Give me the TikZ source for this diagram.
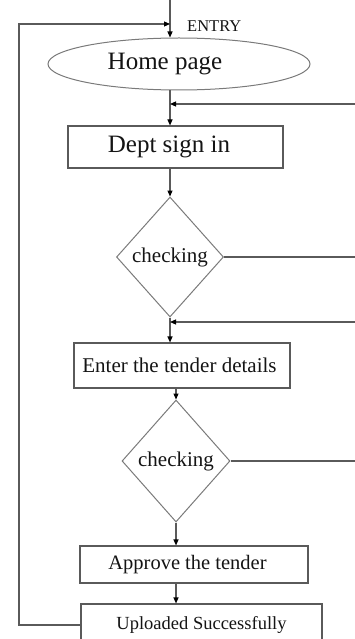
\documentclass[tikz,border=0pt]{standalone}
\usepackage{fontspec}
\setmainfont{Liberation Serif}
\usetikzlibrary{shapes.geometric,arrows.meta}

\definecolor{edge}{HTML}{5A5A5A}
\definecolor{shapeline}{HTML}{7A7A7A}
\definecolor{ink}{HTML}{141414}

\tikzset{
  flowline/.style={draw=edge, line width=1.1pt},
  arr/.style={flowline, -{Triangle[length=6pt,width=5pt,fill=black,color=black]}},
  procbox/.style={draw=edge, line width=1.1pt, rectangle, inner sep=0pt, text=ink},
  decide/.style={draw=shapeline, line width=1pt, diamond, inner sep=0pt, text=ink,
    font=\fontsize{21}{24}\selectfont},
  startnode/.style={draw=shapeline, line width=1pt, ellipse, inner sep=0pt, text=ink,
    font=\fontsize{25}{28}\selectfont}
}

\begin{document}
\begin{tikzpicture}[x=1pt, y=-1pt]
  \useasboundingbox (0,0) rectangle (355,639);

  % main flow (a negative leading skip moves a label a little left of its box centre)
  \node[startnode, minimum width=262pt, minimum height=52pt] (home) at (179,64) {\hspace*{-28pt}Home page};
  \node[procbox, minimum width=215pt, minimum height=42pt, font=\fontsize{25}{28}\selectfont] (dept) at (175.5,147) {\hspace*{-13pt}Dept sign in};
  \node[decide, minimum width=107pt, minimum height=120pt] (chk1) at (170,257) {checking};
  \node[procbox, minimum width=216pt, minimum height=45pt, font=\fontsize{21}{24}\selectfont] (enter) at (182,365.5) {\hspace*{-5pt}Enter the tender details};
  \node[decide, minimum width=108pt, minimum height=122pt] (chk2) at (176,461) {checking};
  \node[procbox, minimum width=228pt, minimum height=37pt, font=\fontsize{20.5}{24}\selectfont] (approve) at (194,564.5) {\hspace*{-13pt}Approve the tender};
  \node[procbox, minimum width=241pt, minimum height=42pt, font=\fontsize{18.5}{22}\selectfont] (upload) at (201.5,625) {Uploaded Successfully};

  \node[text=ink, anchor=west, inner sep=0pt, font=\fontsize{16.5}{18}\selectfont] (entry) at (187,26) {ENTRY};

  % column and edge references
  \coordinate (colA) at (170,0);
  \coordinate (colB) at (176,0);
  \coordinate (leftx) at (19,0);
  \coordinate (entrytop) at (170,0);
  \coordinate (loopin) at (170,24);
  \coordinate (ret1) at (355,104);
  \coordinate (out1) at (355,257);
  \coordinate (ret2) at (355,322);
  \coordinate (out2) at (355,461);

  % entry and return loop
  \draw[arr] (entrytop) -- (colA |- home.north);
  \draw[arr] (upload.west) -- (leftx |- upload.west) -- (leftx |- loopin) -- (loopin);

  % downward flow
  \draw[arr] (colA |- home.south) -- (colA |- dept.north);
  \draw[arr] (colA |- dept.south) -- (chk1.north);
  \draw[arr] (chk1.south) -- (colA |- enter.north);
  \draw[arr] (colB |- enter.south) -- (chk2.north);
  \draw[arr] (chk2.south) -- (colB |- approve.north);
  \draw[arr] (colB |- approve.south) -- (colB |- upload.north);

  % side branches
  \draw[arr] (ret1) -- (colA |- ret1);
  \draw[flowline] (chk1.east) -- (out1);
  \draw[arr] (ret2) -- (colA |- ret2);
  \draw[flowline] (chk2.east) -- (out2);
\end{tikzpicture}
\end{document}
